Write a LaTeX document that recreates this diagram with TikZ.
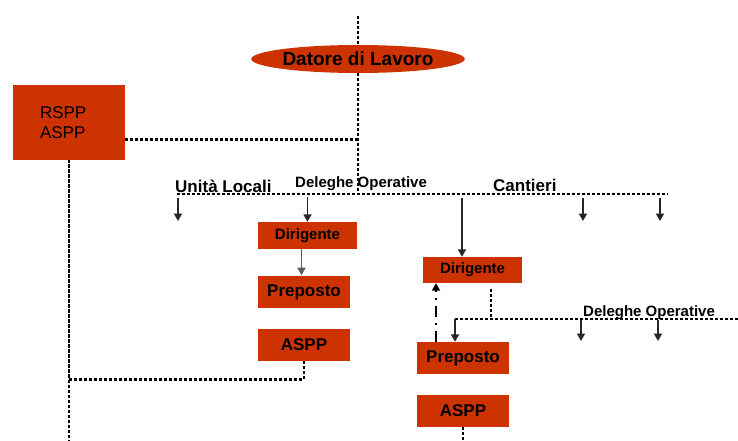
\documentclass[tikz,border=0pt]{standalone}
\usepackage{fontspec}
\setmainfont{Liberation Sans}
\usetikzlibrary{shapes.geometric,arrows.meta}
\definecolor{rosso}{RGB}{204,51,0}

\begin{document}
\begin{tikzpicture}[x=1pt, y=-1pt,
    box/.style={rectangle, fill=rosso, inner sep=0pt, font=\bfseries\fontsize{17}{19}\selectfont},
    piccolo/.style={font=\bfseries\fontsize{15}{17}\selectfont},
    etichetta/.style={inner sep=0pt, anchor=base west},
    puntini/.style={line width=2.9pt, dash pattern=on 2.9pt off 2.1pt},
    freccia/.style={-{Triangle[width=8pt,length=7.5pt]}, line width=1.7pt, black!85}]
    \useasboundingbox (0,0) rectangle (738,441);

    \node [ellipse, fill=rosso, inner sep=0pt, minimum width=204pt, minimum height=28pt,
    font=\bfseries\fontsize{19}{21}\selectfont] (datore) at (358,59) {Datore di Lavoro};
    \node [box, font=\fontsize{17}{20}\selectfont, minimum width=112pt, minimum height=75pt,
    text width=58pt, align=left] (rspp) at (69,122.5) {RSPP\\ASPP};

    \node [box, piccolo, minimum width=99pt, minimum height=27pt] (dir1) at (307.5,235.5) {Dirigente};
    \node [box, minimum width=92pt, minimum height=32pt] (prep1) at (304,292) {Preposto};
    \node [box, minimum width=92pt, minimum height=32pt] (aspp1) at (304,345) {ASPP};

    \node [box, piccolo, minimum width=99pt, minimum height=26pt] (dir2) at (472.5,270) {Dirigente};
    \node [box, minimum width=92pt, minimum height=32pt] (prep2) at (463,358) {Preposto};
    \node [box, minimum width=92pt, minimum height=32pt] (aspp2) at (463,411) {ASPP};

    \coordinate (cima) at (358,16);
    \coordinate (giunto) at (358,194);
    \coordinate (fondo) at (0,441);
    \coordinate (lineaS) at (177,194);
    \coordinate (lineaD) at (668,194);
    \coordinate (linea2S) at (455,319);
    \coordinate (linea2D) at (738,319);
    \coordinate (ramo2) at (491,319);

    \draw [puntini] (cima) -- (datore.north);
    \draw [puntini] (datore.south) -- (giunto);
    \coordinate (rsppdx) at ([yshift=21pt]rspp.south east);
    \draw [puntini] (rsppdx) -- (rsppdx -| giunto);
    \draw [puntini] (rspp.south) -- (rspp.south |- fondo);
    \draw [puntini] (aspp1.south) -- ++(0,18) -| (rspp.south);
    \draw [puntini] (lineaS) -- (lineaD);

    \foreach \x in {178,583,660}
      \draw [freccia] (\x,198) -- (\x,221);
    \draw [freccia] (307,198) -- (307,198 -| dir1.north) -- (dir1.north);
    \coordinate (cant) at (462,198);
    \draw [freccia] (cant) -- (cant |- dir2.north);
    \draw [freccia, black!65] (dir1.south) ++(-6,0) -- ++(0,26);

    \draw [puntini] (dir2.south -| ramo2) ++(0,6) -- (ramo2);
    \draw [puntini] (linea2S) -- (linea2D);
    \draw [freccia] (linea2S) -- (linea2S |- prep2.north);
    \foreach \x in {581,658}
      \draw [freccia] (\x,320) -- (\x,341);
    \coordinate (su) at ([xshift=-27pt]prep2.north);
    \draw [freccia, black, dash pattern=on 11pt off 6pt on 2pt off 6pt]
      (su) -- (su |- dir2.south);
    \draw [puntini] (aspp2.south) -- (aspp2.south |- fondo);

    \node [etichetta, font=\bfseries\fontsize{17}{19}\selectfont] (locali) at (175,192) {Unità Locali};
    \node [etichetta, piccolo] (deleghe1) at (295,187) {Deleghe Operative};
    \node [etichetta, font=\bfseries\fontsize{17}{19}\selectfont] (cantieri) at (493,191.5) {Cantieri};
    \node [etichetta, piccolo] (deleghe2) at (583,316.5) {Deleghe Operative};
  \end{tikzpicture}
\end{document}
